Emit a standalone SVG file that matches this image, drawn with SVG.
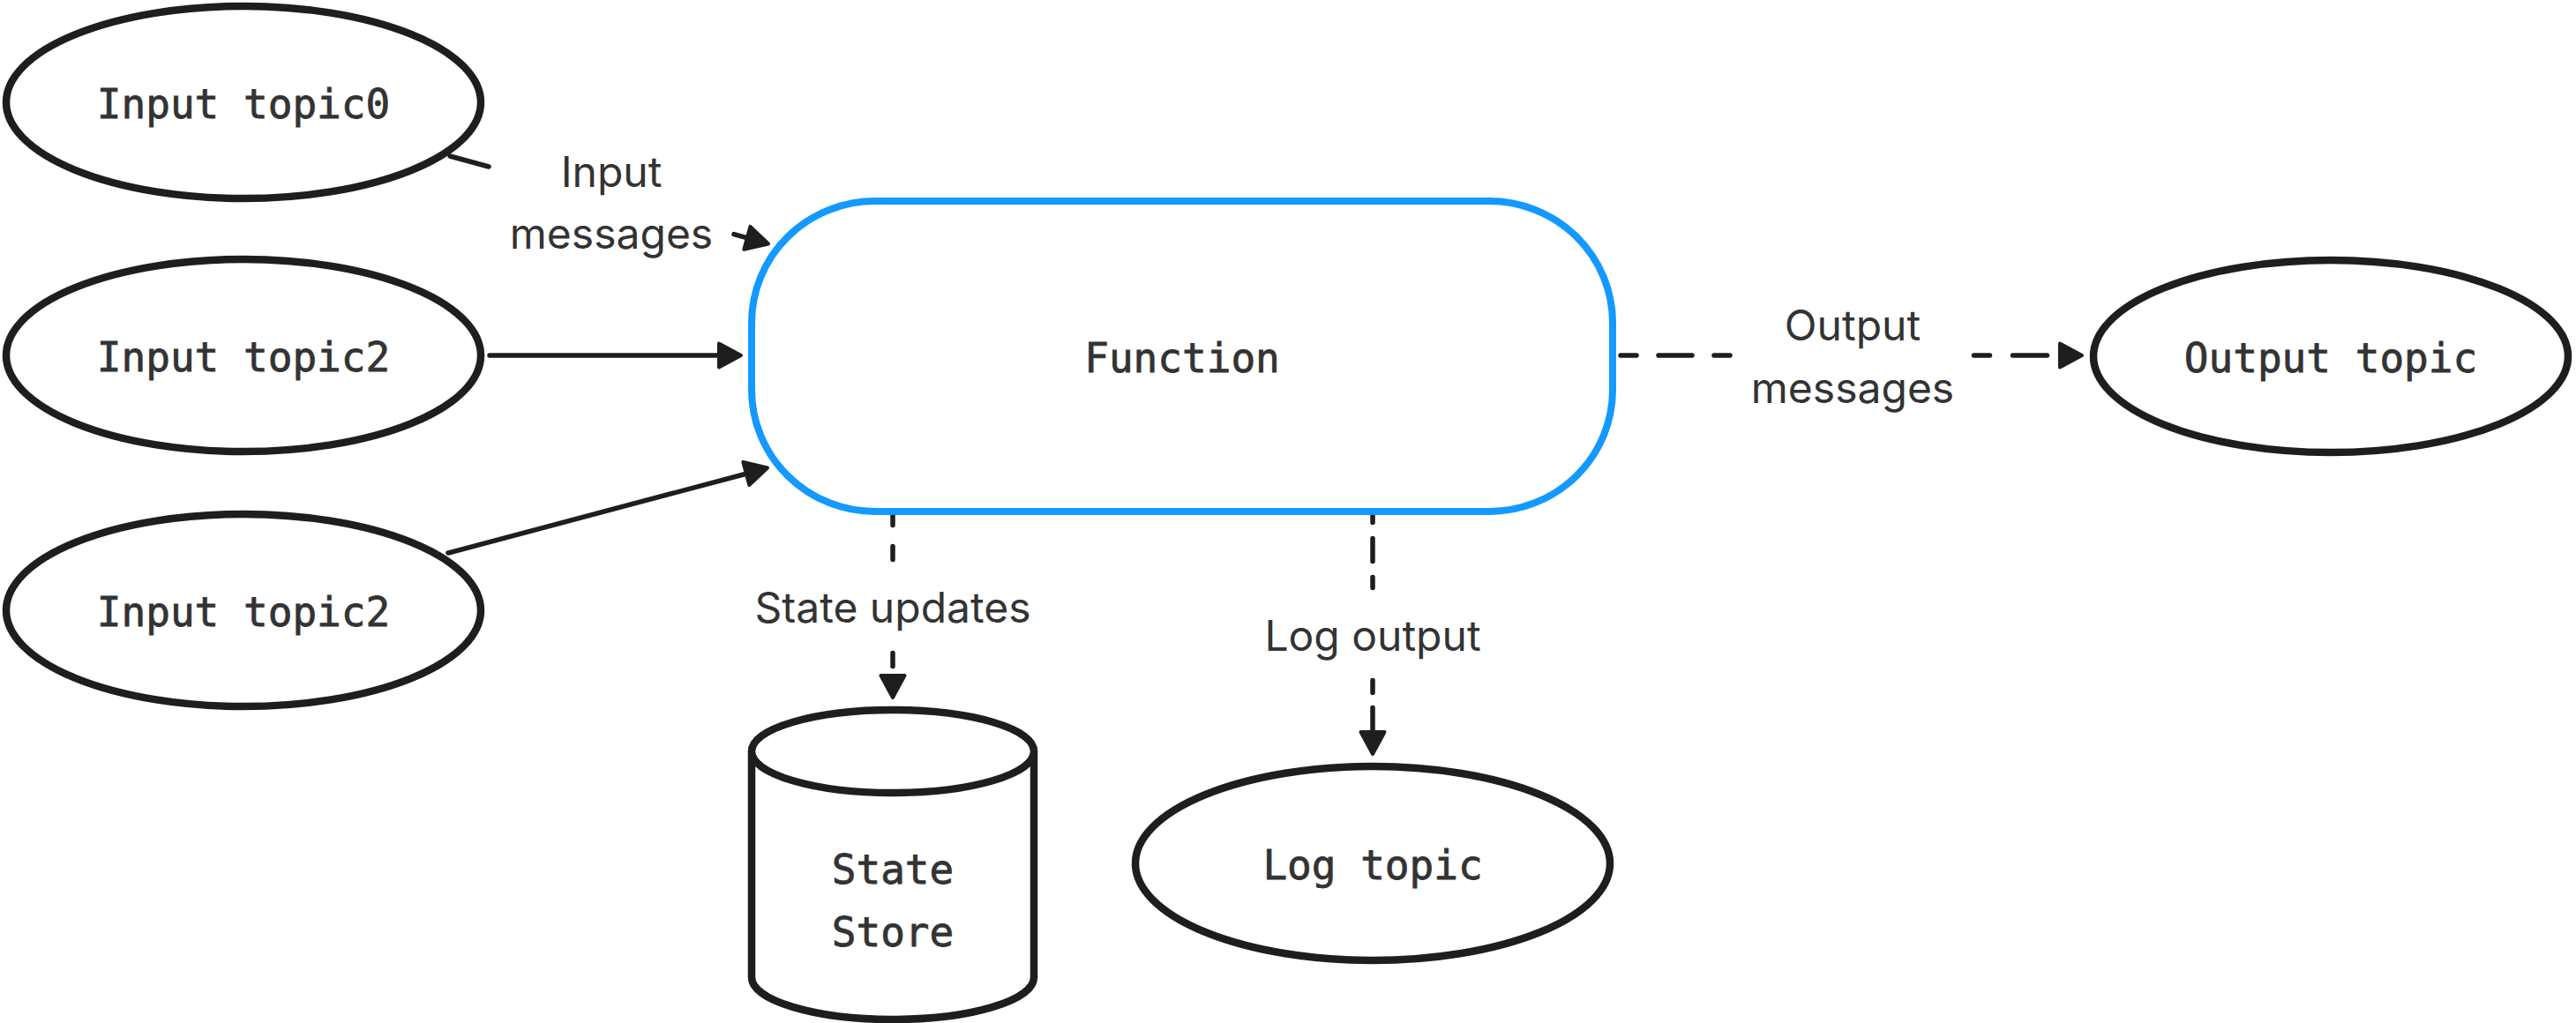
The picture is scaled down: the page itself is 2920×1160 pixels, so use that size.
<svg xmlns="http://www.w3.org/2000/svg" xmlns:xlink="http://www.w3.org/1999/xlink" width="2920" height="1160" viewBox="0 0 2920 1160">
  <style>
    .shape { fill: #ffffff; stroke: #1e1e1e; stroke-width: 8.5; }
    .fn { fill: #ffffff; stroke: #1399ff; stroke-width: 8; }
    .mono { font-family: "DejaVu Sans Mono", "Liberation Mono", monospace; font-size: 46px; fill: #333333; stroke: #333333; stroke-width: 0.8; text-anchor: middle; }
    .lbl { font-family: Inter, "Noto Sans", "Liberation Sans", sans-serif; font-size: 48px; fill: #333333; text-anchor: middle; }
    .conn { fill: none; stroke: #1e1e1e; stroke-width: 5.5; stroke-linecap: round; stroke-linejoin: round; }
    .head { fill: #1e1e1e; stroke: #1e1e1e; stroke-width: 4; stroke-linejoin: round; }
  </style>
  <defs>
    <path id="ah" class="head" d="M0,0 L-25,-13.5 L-25,13.5 Z"/>
  </defs>
  <rect x="0" y="0" width="2920" height="1160" fill="#ffffff"/>

  <g id="connectors">
    <!-- Input topic0 -> Function (labelled) -->
    <path class="conn" d="M510,177 L554,189 M832,265.6 L858,272.8"/>
    <use xlink:href="#ah" href="#ah" transform="translate(871,276.5) rotate(15.4)"/>
    <!-- Input topic2 (middle) -> Function -->
    <path class="conn" d="M555,403 L825,403"/>
    <use xlink:href="#ah" href="#ah" transform="translate(840,403)"/>
    <!-- Input topic2 (bottom) -> Function -->
    <path class="conn" d="M508,627 L856,534.5"/>
    <use xlink:href="#ah" href="#ah" transform="translate(870,530.5) rotate(-14.9)"/>
    <!-- Function -> Output topic (dashed) -->
    <path class="conn" d="M1837,403 H1855 M1880,403 H1918 M1943,403 H1961 M2237.5,403 H2255.5 M2281.5,403 H2320.5"/>
    <use xlink:href="#ah" href="#ah" transform="translate(2360,403)"/>
    <!-- Function -> State Store (dashed) -->
    <path class="conn" d="M1012,582 V595.5 M1012,619.5 V634.5 M1012,740.5 V755.5"/>
    <use xlink:href="#ah" href="#ah" transform="translate(1012,791) rotate(90)"/>
    <!-- Function -> Log topic (dashed) -->
    <path class="conn" d="M1556,582 V592.5 M1556,610.5 V636.5 M1556,654.5 V666.5 M1556,771.5 V785.5 M1556,802.5 V832"/>
    <use xlink:href="#ah" href="#ah" transform="translate(1556,855) rotate(90)"/>

    <text class="lbl" x="693" y="212">Input</text>
    <text class="lbl" x="693" y="282">messages</text>
    <text class="lbl" x="2100" y="386">Output</text>
    <text class="lbl" x="2100" y="457">messages</text>
    <text class="lbl" x="1012" y="706">State updates</text>
    <text class="lbl" x="1556" y="738">Log output</text>
  </g>

  <g id="input-topic0">
    <ellipse class="shape" cx="276" cy="116" rx="269" ry="109"/>
    <text class="mono" x="276" y="134">Input topic0</text>
  </g>
  <g id="input-topic2-a">
    <ellipse class="shape" cx="276" cy="403" rx="269" ry="109"/>
    <text class="mono" x="276" y="421">Input topic2</text>
  </g>
  <g id="input-topic2-b">
    <ellipse class="shape" cx="276" cy="692" rx="269" ry="109"/>
    <text class="mono" x="276" y="710">Input topic2</text>
  </g>
  <g id="function">
    <rect class="fn" x="852" y="228" width="976" height="352" rx="140" ry="138"/>
    <text class="mono" x="1340" y="422">Function</text>
  </g>
  <g id="output-topic">
    <ellipse class="shape" cx="2642" cy="404" rx="269" ry="109"/>
    <text class="mono" x="2642" y="422">Output topic</text>
  </g>
  <g id="log-topic">
    <ellipse class="shape" cx="1556" cy="979" rx="269" ry="110"/>
    <text class="mono" x="1556" y="997">Log topic</text>
  </g>
  <g id="state-store">
    <path class="shape" d="M852,852 L852,1108 A160,48 0 0 0 1172,1108 L1172,852"/>
    <ellipse class="shape" cx="1012" cy="852" rx="160" ry="47"/>
    <text class="mono" x="1012" y="1002">State</text>
    <text class="mono" x="1012" y="1073">Store</text>
  </g>
</svg>
